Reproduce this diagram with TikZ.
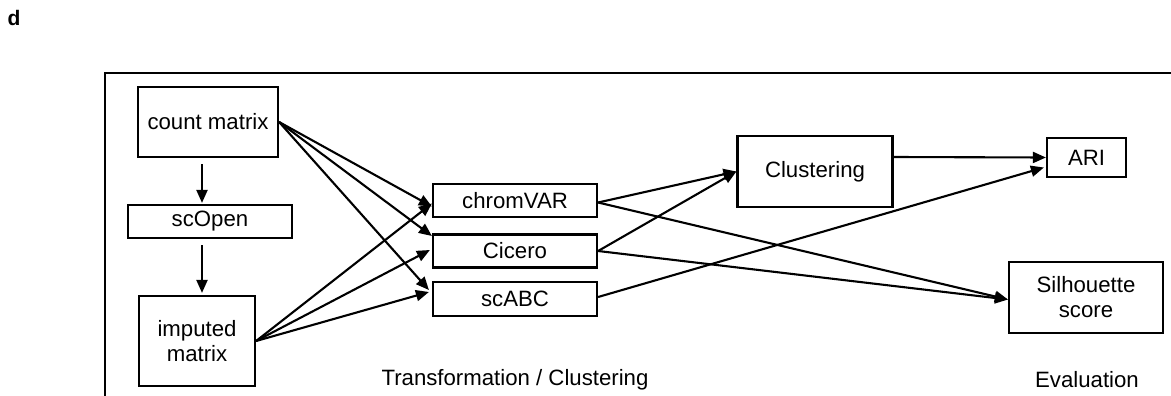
\documentclass[tikz,border=0pt]{standalone}
\usepackage{fontspec}
\setmainfont{Liberation Sans}
\usetikzlibrary{arrows.meta}
\begin{document}
\begin{tikzpicture}[x=1pt,y=-1pt,
  every node/.style={font=\fontsize{22.2}{26}\selectfont},
  box/.style={draw, line width=2.2pt, inner sep=0pt, align=center},
  conn/.style={line width=2.1pt, -{Triangle[length=13pt,width=11pt]}},
  lbl/.style={inner sep=0pt}]
\useasboundingbox (0,0) rectangle (1171,396);
\node[inner sep=0pt, font=\fontsize{21}{24}\selectfont\bfseries] (d) at (14,18) {d};
\draw[line width=2.2pt] (105,400) -- (105,73) -- (1175,73);

\node[box, minimum width=140pt, minimum height=70pt] (count) at (208,122) {count matrix};
\node[box, minimum width=164pt, minimum height=33pt] (scopen) at (210,221.5) {scOpen};
\node[box, minimum width=116pt, minimum height=90pt, align=center] (imp) at (197,341) {imputed\\[-1pt]matrix};

\node[box, minimum width=164pt, minimum height=33pt] (chrom) at (515,200.5) {chromVAR};
\node[box, minimum width=164pt, minimum height=33pt] (cicero) at (515,251) {Cicero};
\node[box, minimum width=164pt, minimum height=34pt] (scabc) at (515,299) {scABC};

\node[box, minimum width=155pt, minimum height=71pt] (clust) at (815,171.5) {Clustering};
\node[box, minimum width=79pt, minimum height=39pt] (ari) at (1086.5,157.5) {ARI};
\node[box, minimum width=154pt, minimum height=71pt] (sil) at (1086,297.5) {Silhouette\\[-1pt]score};

\node[lbl] (tlab) at (515,380) {Transformation / Clustering};
\node[lbl] (elab) at (1087,380) {Evaluation};

% vertical chain
\draw[conn] ([xshift=-6pt,yshift=-6pt]count.south) -- ([xshift=-8pt,yshift=1pt]scopen.north);
\draw[conn] ([xshift=-8pt,yshift=-6pt]scopen.south) -- ([xshift=5pt,yshift=2pt]imp.north);

% count matrix fan-out
\draw[conn] (count.east) -- ([yshift=-6pt]chrom.west);
\draw[conn] (count.east) -- ([yshift=15pt]cicero.west);
\draw[conn] (count.east) -- ([xshift=-3pt,yshift=9pt]scabc.west);
% imputed matrix fan-out
\draw[conn] (imp.east) -- ([yshift=-3pt]chrom.west);
\draw[conn] (imp.east) -- ([xshift=-2pt,yshift=1pt]cicero.west);
\draw[conn] (imp.east) -- ([xshift=-3pt,yshift=7pt]scabc.west);

% to clustering / evaluation
\draw[conn] ([yshift=-2pt]chrom.east) -- (clust.west);
\draw[conn] (cicero.east) -- (clust.west);
\draw[conn] ([yshift=-2pt]chrom.east) -- ([yshift=-2pt]sil.west);
\draw[conn] (cicero.east) -- ([yshift=-2pt]sil.west);
\draw[conn] ([yshift=2pt]scabc.east) -- ([xshift=-2pt,yshift=-10pt]ari.west);
\draw[conn] ([yshift=14.5pt]clust.east) -- (ari.west);
\end{tikzpicture}
\end{document}
